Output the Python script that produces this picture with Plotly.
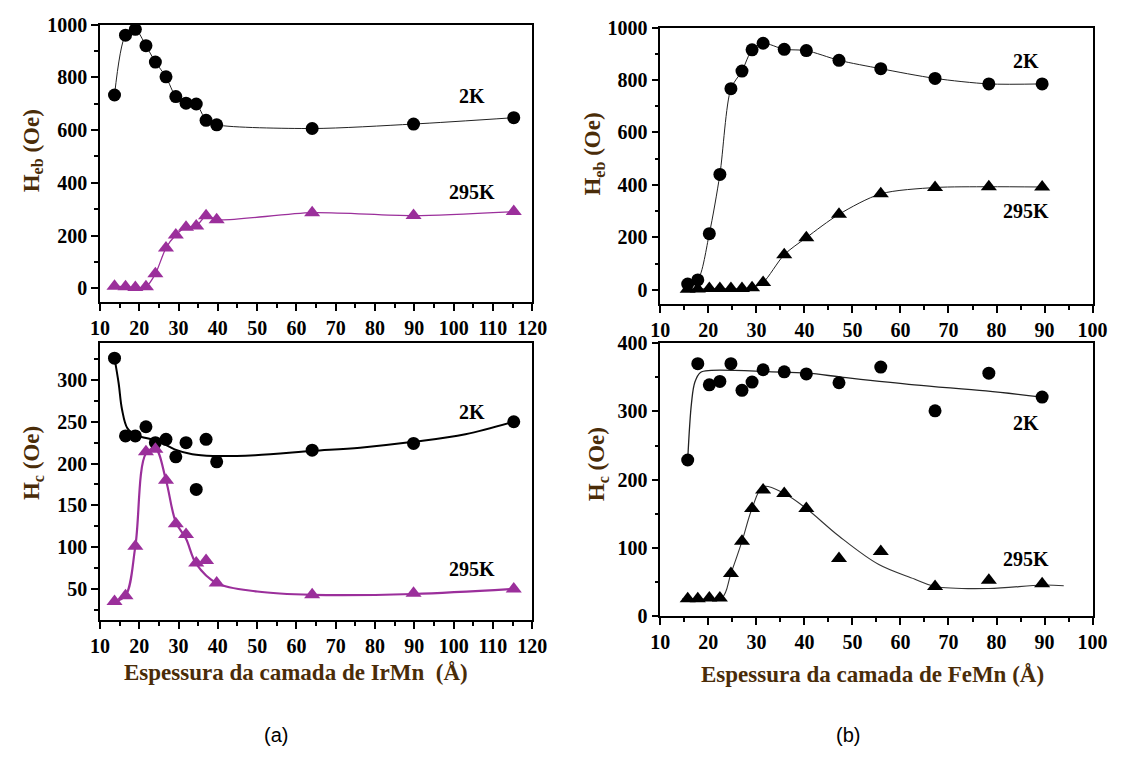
import plotly.graph_objects as go

# ---------------- data ----------------
# (a) IrMn
irmn_x = [13.7, 16.5, 19.0, 21.7, 24.1, 26.8, 29.3, 31.9, 34.5, 37.0, 39.7, 64.0, 89.8, 115.3]
irmn_heb_2k = [733, 960, 982, 920, 858, 802, 727, 702, 699, 637, 620, 606, 623, 647]
irmn_heb_295k = [8, 6, 3, 6, 55, 153, 202, 232, 236, 275, 260, 287, 276, 291]
irmn_hc_2k = [326, 233, 233, 244, 225, 229, 208, 225, 169, 229, 202, 216, 224, 250]
irmn_hc_295k = [35, 42, 101, 214, 217, 180, 128, 115, 81, 84, 57, 43, 45, 50]

# fitted guide curves
irmn_hc_2k_fit_x = [13.7, 14.75, 15.6, 17.0, 19.2, 24.6, 29.0, 33.5, 38.8, 49.5, 64.0, 76.2, 89.8, 103.0, 115.3]
irmn_hc_2k_fit_y = [326, 296, 265, 242, 234, 227, 217, 211, 209, 210, 215, 219, 226, 235, 250]
irmn_hc_295k_fit_x = [13.7, 16.5, 19.0, 21.7, 24.1, 26.8, 29.3, 31.9, 34.5, 39.7, 50.0, 64.0, 89.8, 115.3]
irmn_hc_295k_fit_y = [35, 42, 101, 212, 218, 180, 130, 110, 80, 57, 47, 43, 44, 50]

# (b) FeMn
femn_x = [15.7, 17.8, 20.2, 22.4, 24.7, 27.0, 29.1, 31.4, 35.8, 40.4, 47.2, 55.9, 67.2, 78.4, 89.5]
femn_heb_2k = [22, 38, 214, 440, 767, 834, 915, 940, 917, 912, 875, 843, 806, 785, 785]
femn_heb_295k = [2, 3, 5, 5, 5, 5, 8, 28, 134, 199, 288, 366, 390, 393, 392]
femn_hc_2k = [229, 370, 339, 344, 370, 331, 343, 361, 358, 355, 342, 365, 301, 356, 321]
femn_hc_295k = [26, 26, 27, 27, 63, 110, 158, 185, 180, 158, 85, 95, 44, 53, 48]

femn_hc_2k_fit_x = [15.7, 16.5, 17.2, 18.35, 20.6, 33.2, 40.6, 48.1, 62.9, 77.8, 89.5]
femn_hc_2k_fit_y = [229, 313, 343, 357, 360, 358, 356, 350, 339, 330, 321]
femn_hc_295k_fit_x = [14.6, 18.0, 22.8, 24.7, 27.0, 29.1, 31.4, 35.8, 40.4, 47.3, 55.5, 62.9, 67.2, 78.4, 89.5, 94.0]
femn_hc_295k_fit_y = [26, 26, 27, 63, 110, 158, 190, 180, 158, 117, 76, 55, 44, 41, 46, 45]

PURPLE = "#9b2f9b"
BLACK = "#000000"
TITLE_COLOR = "#4a2c08"
SERIF = "Liberation Serif, Times New Roman, serif"
W, H = 1133, 762

fig = go.Figure()


def add_points(x, y, ax, symbol, color, line=None, size=13):
    fig.add_trace(go.Scatter(
        x=x, y=y, xaxis=ax[0], yaxis=ax[1],
        mode="lines+markers" if line else "markers",
        line=line,
        marker=dict(symbol=symbol, size=size, color=color, line=dict(width=0)),
        showlegend=False, hoverinfo="x+y"))


def add_curve(x, y, ax, color, width):
    fig.add_trace(go.Scatter(
        x=x, y=y, xaxis=ax[0], yaxis=ax[1], mode="lines",
        line=dict(color=color, width=width, shape="spline", smoothing=1.0),
        showlegend=False, hoverinfo="skip"))


A1 = ("x", "y")
A2 = ("x2", "y2")
B1 = ("x3", "y3")
B2 = ("x4", "y4")

# (a) top
add_points(irmn_x, irmn_heb_2k, A1, "circle", BLACK,
           line=dict(color="#222222", width=1, shape="spline", smoothing=0.8))
add_points(irmn_x, irmn_heb_295k, A1, "triangle-up", PURPLE,
           line=dict(color=PURPLE, width=1.3, shape="spline", smoothing=0.8), size=14)
# (a) bottom
add_curve(irmn_hc_2k_fit_x, irmn_hc_2k_fit_y, A2, BLACK, 2)
add_curve(irmn_hc_295k_fit_x, irmn_hc_295k_fit_y, A2, PURPLE, 2.2)
add_points(irmn_x, irmn_hc_2k, A2, "circle", BLACK)
add_points(irmn_x, irmn_hc_295k, A2, "triangle-up", PURPLE, size=14)
# (b) top
add_points(femn_x, femn_heb_2k, B1, "circle", BLACK,
           line=dict(color="#222222", width=1, shape="spline", smoothing=0.8))
add_points(femn_x, femn_heb_295k, B1, "triangle-up", BLACK,
           line=dict(color="#222222", width=1, shape="spline", smoothing=0.8), size=14)
# (b) bottom
add_curve(femn_hc_2k_fit_x, femn_hc_2k_fit_y, B2, "#222222", 1.3)
add_curve(femn_hc_295k_fit_x, femn_hc_295k_fit_y, B2, "#333333", 1.1)
add_points(femn_x, femn_hc_2k, B2, "circle", BLACK)
add_points(femn_x, femn_hc_295k, B2, "triangle-up", BLACK, size=14)

tickfont = dict(family=SERIF, size=20, color="black", weight="bold")


def xax(domain, rng, anchor):
    return dict(domain=domain, range=rng, anchor=anchor, dtick=10, tick0=10,
                showline=True, mirror=True, linecolor="black", linewidth=1.6,
                ticks="outside", ticklen=7, tickwidth=1.5, tickcolor="black",
                minor=dict(ticks="outside", ticklen=4, tickwidth=1.5, dtick=5, tick0=10, tickcolor="black"),
                showgrid=False, zeroline=False, tickfont=tickfont, fixedrange=True)


def yax(domain, rng, anchor, dtick, minor):
    return dict(domain=domain, range=rng, anchor=anchor, dtick=dtick, tick0=0,
                showline=True, mirror=True, linecolor="black", linewidth=1.6,
                ticks="outside", ticklen=7, tickwidth=1.5, tickcolor="black",
                minor=dict(ticks="outside", ticklen=4, tickwidth=1.5, dtick=minor, tick0=0, tickcolor="black"),
                showgrid=False, zeroline=False, tickfont=tickfont, fixedrange=True)


def px_x(p):
    return p / W


def px_y(p):
    return 1 - p / H


left = [px_x(92), px_x(534)]
right = [px_x(665), px_x(1107)]

fig.update_layout(
    width=W, height=H, margin=dict(l=0, r=0, t=0, b=0),
    paper_bgcolor="white", plot_bgcolor="white",
    font=dict(family=SERIF),
    xaxis=xax(left, [10, 120], "y"),
    yaxis=yax([px_y(300), px_y(14)], [-53, 1000], "x", 200, 100),
    xaxis2=xax(left, [10, 120], "y2"),
    yaxis2=yax([px_y(627), px_y(342)], [13, 344], "x2", 50, 25),
    xaxis3=xax(right, [10, 100], "y3"),
    yaxis3=yax([px_y(302), px_y(17)], [-55, 1000], "x3", 200, 100),
    xaxis4=xax(right, [10, 100], "y4"),
    yaxis4=yax([px_y(623.5), px_y(342)], [0, 400], "x4", 100, 50),
)

ann = []


def label(text, x, y, size=20, color="black", family=SERIF, weight="bold", angle=0):
    ann.append(dict(text=text, x=px_x(x), y=px_y(y), xref="paper", yref="paper",
                    showarrow=False, xanchor="center", yanchor="middle", textangle=angle,
                    borderpad=0,
                    font=dict(family=family, size=size, color=color, weight=weight)))


label("2K", 472, 88)
label("295K", 472, 186)
label("2K", 472, 413)
label("295K", 472, 575)
label("2K", 1039, 52)
label("295K", 1039, 206)
label("2K", 1039, 424)
label("295K", 1039, 564)

label("H<sub>eb</sub> (Oe)", 23, 144, size=23, color=TITLE_COLOR, angle=-90)
label("H<sub>c</sub> (Oe)", 23, 465, size=23, color=TITLE_COLOR, angle=-90)
label("H<sub>eb</sub> (Oe)", 597, 147, size=23, color=TITLE_COLOR, angle=-90)
label("H<sub>c</sub> (Oe)", 601, 467, size=23, color=TITLE_COLOR, angle=-90)

label("Espessura da camada de IrMn  (Å)", 292, 681, size=23, color=TITLE_COLOR)
label("Espessura da camada de FeMn (Å)", 882, 683, size=23, color=TITLE_COLOR)

label("(a)", 272, 746, size=20, family="Liberation Sans, Arial, sans-serif", weight="normal")
label("(b)", 857, 746, size=20, family="Liberation Sans, Arial, sans-serif", weight="normal")

fig.update_layout(annotations=ann)

fig.write_html("out.html")
